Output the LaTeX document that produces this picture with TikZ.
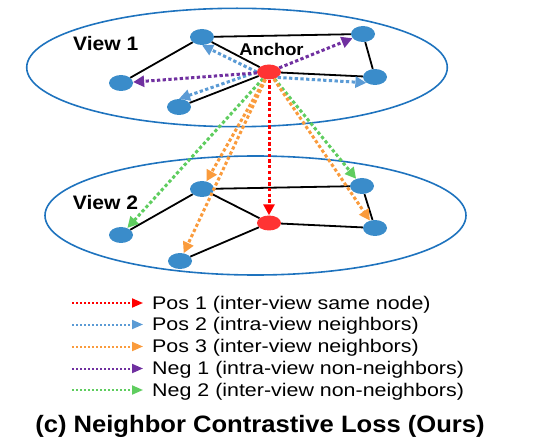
\documentclass[tikz,border=0pt]{standalone}
\usepackage{fontspec}
\setmainfont[FakeStretch=1.08]{Liberation Sans}
\newfontfamily\legfont[FakeStretch=1.17]{Liberation Sans}
\usetikzlibrary{arrows.meta,shapes.geometric}
\definecolor{nodeblue}{RGB}{58,140,202}
\definecolor{ancred}{RGB}{255,51,51}
\definecolor{viewblue}{RGB}{30,115,190}
\definecolor{cpos1}{RGB}{255,0,0}
\definecolor{cpos2}{RGB}{91,155,213}
\definecolor{cpos3}{RGB}{250,155,60}
\definecolor{cneg1}{RGB}{112,48,160}
\definecolor{cneg2}{RGB}{95,205,95}
\begin{document}
\begin{tikzpicture}[x=1pt,y=-1pt,
  vnode/.style={ellipse, fill=nodeblue, minimum width=24pt, minimum height=16pt, inner sep=0pt},
  anc/.style={ellipse, fill=ancred, minimum width=24pt, minimum height=15pt, inner sep=0pt},
  viewell/.style={ellipse, draw=viewblue, line width=1.6pt, inner sep=0pt},
  edge/.style={draw=black, line width=1.8pt},
  dots/.style={line width=3pt, dash pattern=on 3.3pt off 2.4pt, -{Triangle[length=11pt,width=11pt]}},
  ldots/.style={line width=2pt, dash pattern=on 2pt off 2pt, -{Triangle[length=11pt,width=9pt]}},
  lab/.style={font=\fontsize{19.5}{22}\selectfont\bfseries, inner sep=0pt},
  leg/.style={font=\legfont\fontsize{18.3}{22}\selectfont, anchor=base west, inner sep=0pt},
]
\useasboundingbox (0,0) rectangle (536,441);
% views
\node[viewell, minimum width=420.6pt, minimum height=118.4pt] (v1) at (237,67.5) {};
\node[viewell, minimum width=421pt, minimum height=119pt] (v2) at (255.5,215.5) {};
\node[lab] (v1lab) at (105.7,44) {View 1};
\node[lab] (v2lab) at (105.5,202.5) {View 2};
\node[lab, font=\fontsize{17}{20}\selectfont\bfseries] (anclab) at (271.5,49) {Anchor};
% view 1 nodes
\node[vnode] (a1) at (202,37) {};
\node[vnode] (a2) at (363,34) {};
\node[vnode] (a3) at (375,77) {};
\node[vnode] (a4) at (121,83) {};
\node[vnode] (a5) at (179,107) {};
\node[anc] (x1) at (269,72) {};
% view 2 nodes
\node[vnode] (b1) at (202,189) {};
\node[vnode] (b2) at (362,186) {};
\node[vnode] (b3) at (375,228) {};
\node[vnode] (b4) at (121,235) {};
\node[vnode] (b5) at (180,261) {};
\node[anc] (x2) at (269,223) {};
% edges
\draw[edge] (a1) -- (a2);
\draw[edge] (a1) -- (a4);
\draw[edge] (a1) -- (x1);
\draw[edge] (x1) -- (a3);
\draw[edge] (a2) -- (a3);
\draw[edge] (x1) -- (a5);
\draw[edge] (b1) -- (b2);
\draw[edge] (b1) -- (b4);
\draw[edge] (b1) -- (x2);
\draw[edge] (x2) -- (b3);
\draw[edge] (b2) -- (b3);
\draw[edge] (x2) -- (b5);
% arrows
\draw[dots, cpos2] (x1.west) -- (a1.south);
\draw[dots, cpos2] (x1.west) -- (a5.north);
\draw[dots, cpos2] (x1.south east) -- (a3.south west);
\draw[dots, cneg1] (x1) -- (a4);
\draw[dots, cneg1] (x1) -- (a2);
\draw[dots, cneg2] (x1) -- (b4);
\draw[dots, cneg2] (x1) -- (b2);
\draw[dots, cpos3] (x1) -- (b1);
\draw[dots, cpos3] (x1) -- (b5);
\draw[dots, cpos3] (x1) -- (b3);
\draw[dots, cpos1] (x1) -- (x2);
% legend
\coordinate (l1s) at (72,303); \coordinate (l1e) at (143,303);
\coordinate (l2s) at (72,324.5); \coordinate (l2e) at (143,324.5);
\coordinate (l3s) at (72,346.5); \coordinate (l3e) at (143,346.5);
\coordinate (l4s) at (72,368.5); \coordinate (l4e) at (143,368.5);
\coordinate (l5s) at (72,390); \coordinate (l5e) at (143,390);
\draw[ldots, cpos1] (l1s) -- (l1e);
\draw[ldots, cpos2] (l2s) -- (l2e);
\draw[ldots, cpos3] (l3s) -- (l3e);
\draw[ldots, cneg1] (l4s) -- (l4e);
\draw[ldots, cneg2] (l5s) -- (l5e);
\node[leg] (t1) at (152,309) {Pos 1 (inter-view same node)};
\node[leg] (t2) at (152,330.5) {Pos 2 (intra-view neighbors)};
\node[leg] (t3) at (152,352.5) {Pos 3 (inter-view neighbors)};
\node[leg] (t4) at (152,374.5) {Neg 1 (intra-view non-neighbors)};
\node[leg] (t5) at (152,396) {Neg 2 (inter-view non-neighbors)};
\node[font=\fontsize{23.7}{28}\selectfont\bfseries, anchor=base, inner sep=0pt] (title) at (260,432) {(c) Neighbor Contrastive Loss (Ours)};
\end{tikzpicture}
\end{document}
